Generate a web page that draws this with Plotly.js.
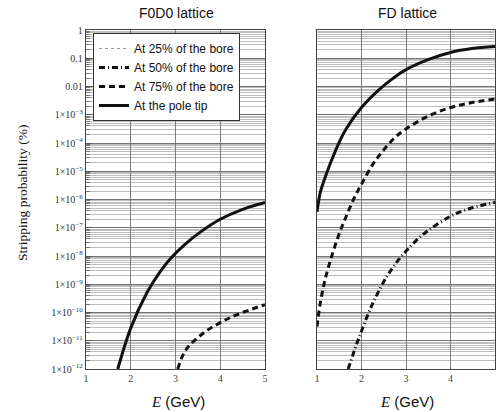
<!DOCTYPE html>
<html>
<head>
<meta charset="utf-8">
<script src="https://cdn.plot.ly/plotly-3.0.1.min.js"></script>
<style>html,body{margin:0;padding:0;background:#fff;}#chart{width:496px;height:412px;}</style>
</head>
<body>
<div id="chart"></div>
<script>
// ---- Data ----
const panelTitles = ["F0D0 lattice", "FD lattice"];
const seriesNames = ["At 25% of the bore", "At 50% of the bore", "At 75% of the bore", "At the pole tip"];

// F0D0 lattice
const f0d0_pole_E = [1.71, 2.0, 2.36, 2.65, 2.88, 3.2, 3.6, 4.0, 4.5, 5.0];
const f0d0_pole_P = [1.0e-12, 2.8e-11, 5.0e-10, 2.7e-9, 7.9e-9, 2.5e-8, 7.9e-8, 2.0e-7, 4.5e-7, 7.9e-7];
const f0d0_b75_E = [3.05, 3.23, 3.61, 3.98, 4.35, 5.0];
const f0d0_b75_P = [1.0e-12, 4.7e-12, 1.8e-11, 4.2e-11, 8.1e-11, 1.9e-10];

// FD lattice
const fd_pole_E = [1.0, 1.04, 1.07, 1.1, 1.19, 1.26, 1.45, 1.64, 2.0, 2.39, 2.7, 2.98, 3.51, 4.0, 4.48, 5.0];
const fd_pole_P = [3.7e-7, 9.5e-7, 1.7e-6, 2.5e-6, 6.5e-6, 1.3e-5, 7.1e-5, 2.9e-4, 1.8e-3, 7.6e-3, 0.019, 0.038, 0.091, 0.16, 0.22, 0.26];
const fd_b75_E = [1.0, 1.07, 1.15, 1.22, 1.34, 1.49, 1.64, 1.82, 2.0, 2.24, 2.42, 2.7, 2.98, 3.51, 4.0, 4.48, 5.0];
const fd_b75_P = [3.2e-11, 2.0e-10, 8.9e-10, 2.5e-9, 1.1e-8, 5.6e-8, 2.2e-7, 1.0e-6, 3.5e-6, 1.6e-5, 4.0e-5, 1.3e-4, 3.0e-4, 9.1e-4, 1.8e-3, 2.7e-3, 3.6e-3];
const fd_b50_E = [1.70, 1.89, 2.0, 2.15, 2.27, 2.42, 2.57, 2.71, 2.87, 3.05, 3.28, 3.54, 3.99, 4.25, 4.51, 5.0];
const fd_b50_P = [1.0e-12, 7.6e-12, 2.2e-11, 8.9e-11, 2.4e-10, 7.1e-10, 1.9e-9, 4.0e-9, 8.7e-9, 1.8e-8, 4.2e-8, 8.9e-8, 2.5e-7, 3.8e-7, 5.2e-7, 7.9e-7];

const xTickVals = [1, 2, 3, 4, 5];
const yTickVals = [1, 0.1, 0.01, 1e-3, 1e-4, 1e-5, 1e-6, 1e-7, 1e-8, 1e-9, 1e-10, 1e-11, 1e-12];
const yTickText = ["1", "0.1", "0.01", "1×10<sup>−3</sup>", "1×10<sup>−4</sup>", "1×10<sup>−5</sup>", "1×10<sup>−6</sup>",
  "1×10<sup>−7</sup>", "1×10<sup>−8</sup>", "1×10<sup>−9</sup>", "1×10<sup>−10</sup>", "1×10<sup>−11</sup>", "1×10<sup>−12</sup>"];

// ---- Styling ----
const minorVals = [];
for (let n = -12; n < 0; n++) for (let k = 2; k <= 9; k++) minorVals.push(k * Math.pow(10, n));

const styles = {
  b25: {color: '#999', width: 1.2, dash: 'dot'},
  b50: {color: '#111', width: 3, dash: '6px,3px,1px,3px'},
  b75: {color: '#111', width: 3, dash: '6px,4px'},
  pole: {color: '#111', width: 3, dash: 'solid'}
};
const sp = s => Object.assign({shape: 'spline', smoothing: 1}, s);

const traces = [
  {x: [null], y: [null], xaxis: 'x', yaxis: 'y', mode: 'lines', name: seriesNames[0], line: styles.b25, showlegend: true},
  {x: [null], y: [null], xaxis: 'x', yaxis: 'y', mode: 'lines', name: seriesNames[1], line: styles.b50, showlegend: true},
  {x: f0d0_b75_E, y: f0d0_b75_P, xaxis: 'x', yaxis: 'y', mode: 'lines', name: seriesNames[2], line: sp(styles.b75), showlegend: true},
  {x: f0d0_pole_E, y: f0d0_pole_P, xaxis: 'x', yaxis: 'y', mode: 'lines', name: seriesNames[3], line: sp(styles.pole), showlegend: true},
  {x: fd_b50_E, y: fd_b50_P, xaxis: 'x2', yaxis: 'y2', mode: 'lines', name: seriesNames[1], line: sp(styles.b50), showlegend: false},
  {x: fd_b75_E, y: fd_b75_P, xaxis: 'x2', yaxis: 'y2', mode: 'lines', name: seriesNames[2], line: sp(styles.b75), showlegend: false},
  {x: fd_pole_E, y: fd_pole_P, xaxis: 'x2', yaxis: 'y2', mode: 'lines', name: seriesNames[3], line: sp(styles.pole), showlegend: false}
];

const W = 496, H = 412;
const px = v => v / W, py = v => 1 - v / H;

function xaxisDef(domain, anchor) {
  return {
    domain: domain, anchor: anchor, range: [1, 5], tickvals: xTickVals,
    showgrid: true, gridcolor: '#7c7c7c', gridwidth: 1, zeroline: false,
    showline: true, linecolor: '#444', linewidth: 1.2, mirror: true,
    ticks: '', tickfont: {family: 'Liberation Serif', size: 10, color: '#444'},
    fixedrange: true
  };
}
function yaxisDef(anchor, labels) {
  return {
    type: 'log', domain: [py(369), py(30)], anchor: anchor, range: [-12, 0],
    tickmode: 'array', tickvals: yTickVals, ticktext: yTickText, showticklabels: labels,
    showgrid: true, gridcolor: '#747474', gridwidth: 1, zeroline: false,
    showline: true, linecolor: '#444', linewidth: 1.2, mirror: true,
    ticks: labels ? 'inside' : '', ticklen: 6, tickcolor: '#555',
    tickfont: {family: 'Liberation Serif', size: 10, color: '#333'},
    minor: {tickmode: 'array', tickvals: minorVals, showgrid: true, gridcolor: '#bdbdbd', gridwidth: 1,
            ticks: labels ? 'inside' : '', ticklen: 4, tickcolor: '#777'},
    fixedrange: true
  };
}

const layout = {
  width: W, height: H,
  margin: {l: 0, r: 0, t: 0, b: 0},
  paper_bgcolor: '#fff', plot_bgcolor: '#fff',
  showlegend: true,
  legend: {
    x: px(93), y: py(33), xanchor: 'left', yanchor: 'top',
    bgcolor: '#fff', bordercolor: '#333', borderwidth: 1,
    font: {family: 'Liberation Sans', size: 12, color: '#111'},
    itemwidth: 30, tracegroupgap: 0
  },
  xaxis: xaxisDef([px(86), px(265)], 'y'),
  yaxis: yaxisDef('x', true),
  xaxis2: xaxisDef([px(317), px(495)], 'y2'),
  yaxis2: yaxisDef('x2', false),
  annotations: [
    {text: panelTitles[0], xref: 'paper', yref: 'paper', x: px(176), y: py(13), xanchor: 'center', yanchor: 'middle', showarrow: false,
     font: {family: 'Liberation Sans', size: 14, color: '#111'}},
    {text: panelTitles[1], xref: 'paper', yref: 'paper', x: px(407), y: py(13), xanchor: 'center', yanchor: 'middle', showarrow: false,
     font: {family: 'Liberation Sans', size: 14, color: '#111'}},
    {text: '<span style="font-family:Liberation Serif"><i>E</i></span> (GeV)', xref: 'paper', yref: 'paper', x: px(178), y: py(401), xanchor: 'center', yanchor: 'middle', showarrow: false,
     font: {family: 'Liberation Sans', size: 15, color: '#111'}},
    {text: '<span style="font-family:Liberation Serif"><i>E</i></span> (GeV)', xref: 'paper', yref: 'paper', x: px(407), y: py(401), xanchor: 'center', yanchor: 'middle', showarrow: false,
     font: {family: 'Liberation Sans', size: 15, color: '#111'}},
    {text: 'Stripping probability (%)', xref: 'paper', yref: 'paper', x: px(22), y: py(193), xanchor: 'center', yanchor: 'middle', textangle: -90, showarrow: false,
     font: {family: 'Liberation Serif', size: 13.5, color: '#111'}}
  ]
};

Plotly.newPlot('chart', traces, layout, {staticPlot: true, displayModeBar: false});
</script>
</body>
</html>
